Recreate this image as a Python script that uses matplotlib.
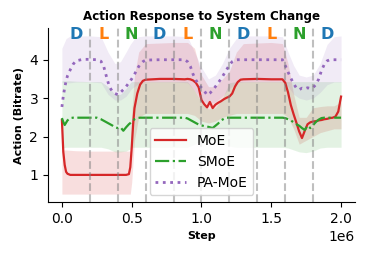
import matplotlib
matplotlib.use('Agg')
import matplotlib.pyplot as plt
import numpy as np

# pasos de entrenamiento (en millones)
steps = [0.00, 0.01, 0.02, 0.03, 0.04, 0.06, 0.08, 0.10, 0.15, 0.20,
         0.25, 0.28, 0.30, 0.32, 0.34, 0.36, 0.38, 0.40, 0.42, 0.44,
         0.46, 0.48, 0.49, 0.50, 0.51, 0.52, 0.54, 0.56, 0.58, 0.60,
         0.70, 0.80, 0.88, 0.90, 0.92, 0.94, 0.96, 0.98, 1.00, 1.02,
         1.04, 1.06, 1.08, 1.10, 1.12, 1.14, 1.16, 1.18, 1.20, 1.22,
         1.24, 1.26, 1.28, 1.30, 1.40, 1.50, 1.58, 1.60, 1.62, 1.64,
         1.66, 1.68, 1.70, 1.72, 1.74, 1.76, 1.78, 1.80, 1.82, 1.84,
         1.86, 1.88, 1.90, 1.92, 1.94, 1.96, 1.98, 2.00]

moe = [2.43, 1.60, 1.26, 1.08, 1.03, 1.00, 1.00, 1.00, 1.00, 1.00,
       1.00, 1.00, 1.00, 1.00, 1.00, 1.00, 1.00, 1.00, 1.00, 1.00,
       1.00, 1.02, 1.20, 1.70, 2.30, 2.74, 3.12, 3.35, 3.45, 3.48,
       3.50, 3.50, 3.49, 3.50, 3.49, 3.46, 3.40, 3.28, 2.95, 2.84,
       2.76, 2.90, 2.74, 2.83, 2.88, 2.92, 2.97, 3.01, 3.04, 3.12,
       3.30, 3.42, 3.48, 3.49, 3.50, 3.49, 3.49, 3.40, 3.15, 2.82,
       2.58, 2.36, 2.13, 1.96, 2.15, 2.32, 2.37, 2.39, 2.40, 2.42,
       2.43, 2.45, 2.46, 2.48, 2.49, 2.52, 2.65, 3.04]

smoe = [2.48, 2.38, 2.30, 2.36, 2.42, 2.48, 2.49, 2.49, 2.49, 2.49,
        2.49, 2.45, 2.41, 2.37, 2.33, 2.29, 2.24, 2.22, 2.24, 2.15,
        2.24, 2.32, 2.35, 2.39, 2.42, 2.45, 2.48, 2.49, 2.49, 2.49,
        2.49, 2.49, 2.49, 2.47, 2.43, 2.39, 2.35, 2.31, 2.29, 2.27,
        2.26, 2.24, 2.22, 2.28, 2.34, 2.42, 2.46, 2.49, 2.49, 2.49,
        2.49, 2.49, 2.49, 2.49, 2.49, 2.49, 2.49, 2.48, 2.45, 2.42,
        2.37, 2.32, 2.28, 2.22, 2.17, 2.28, 2.22, 2.30, 2.38, 2.44,
        2.48, 2.49, 2.49, 2.49, 2.49, 2.49, 2.49, 2.49]

pamoe = [2.77, 3.05, 3.27, 3.45, 3.58, 3.74, 3.88, 3.97, 4.01, 4.01,
         4.00, 3.96, 3.82, 3.55, 3.30, 3.18, 3.12, 3.09, 3.15, 3.22,
         3.30, 3.40, 3.45, 3.50, 3.56, 3.62, 3.76, 3.88, 3.95, 3.99,
         4.00, 4.00, 4.00, 3.95, 3.83, 3.62, 3.47, 3.35, 3.27, 3.19,
         3.08, 3.13, 3.20, 3.30, 3.40, 3.50, 3.62, 3.74, 3.86, 3.95,
         3.99, 4.00, 4.00, 4.00, 4.00, 4.00, 4.00, 3.85, 3.68, 3.52,
         3.38, 3.26, 3.22, 3.26, 3.24, 3.27, 3.25, 3.28, 3.35, 3.50,
         3.72, 3.88, 3.97, 4.00, 4.00, 4.00, 4.00, 4.00]

# bandas de variabilidad (min/max entre semillas)
band_steps = [0.00, 0.03, 0.06, 0.10, 0.20, 0.28, 0.33, 0.38, 0.42, 0.46,
              0.49, 0.50, 0.52, 0.55, 0.60, 0.80, 0.90, 0.95, 1.00, 1.05,
              1.10, 1.15, 1.20, 1.25, 1.30, 1.50, 1.58, 1.62, 1.66, 1.70,
              1.75, 1.80, 1.85, 1.90, 1.95, 2.00]

moe_low = [0.50, 0.50, 0.50, 0.50, 0.50, 0.50, 0.50, 0.50, 0.50, 0.50,
           0.50, 0.80, 1.90, 2.50, 2.60, 2.60, 2.60, 2.55, 2.40, 2.35,
           2.40, 2.50, 2.55, 2.60, 2.60, 2.60, 2.60, 2.50, 2.20, 1.80,
           1.90, 2.00, 2.10, 2.15, 2.20, 2.20]
moe_high = [1.65, 1.65, 1.64, 1.63, 1.62, 1.62, 1.62, 1.62, 1.62, 1.62,
            1.62, 2.60, 3.60, 4.20, 4.42, 4.45, 4.45, 4.30, 3.60, 3.30,
            3.30, 3.50, 3.70, 4.20, 4.42, 4.45, 4.42, 3.90, 3.10, 2.50,
            2.50, 2.75, 2.78, 2.80, 2.80, 2.90]

smoe_low = [1.70, 1.72, 1.72, 1.72, 1.72, 1.72, 1.68, 1.60, 1.60, 1.62,
            1.68, 1.72, 1.72, 1.72, 1.72, 1.72, 1.72, 1.80, 1.90, 1.90,
            1.90, 1.85, 1.75, 1.72, 1.72, 1.72, 1.72, 1.70, 1.65, 1.60,
            1.58, 1.62, 1.70, 1.72, 1.72, 1.72]
smoe_high = [3.45, 3.45, 3.45, 3.44, 3.43, 3.43, 3.30, 3.10, 3.10, 3.25,
             3.40, 3.43, 3.43, 3.43, 3.43, 3.43, 3.43, 3.20, 2.90, 2.72,
             2.75, 3.00, 3.40, 3.43, 3.43, 3.43, 3.43, 3.43, 3.43, 3.43,
             3.43, 3.43, 3.43, 3.43, 3.43, 3.43]

pamoe_low = [3.40, 3.40, 3.40, 3.42, 3.42, 3.40, 3.10, 2.95, 2.95, 3.05,
             3.20, 3.25, 3.30, 3.38, 3.42, 3.42, 3.40, 3.20, 2.95, 2.85,
             2.90, 3.05, 3.25, 3.40, 3.42, 3.42, 3.42, 3.30, 3.10, 3.00,
             2.95, 3.00, 3.15, 3.35, 3.42, 3.42]
pamoe_high = [4.30, 4.55, 4.62, 4.62, 4.62, 4.60, 4.20, 3.90, 3.95, 4.20,
              4.40, 4.45, 4.55, 4.60, 4.62, 4.62, 4.60, 4.20, 3.80, 3.50,
              3.60, 3.90, 4.30, 4.55, 4.62, 4.62, 4.60, 4.20, 3.85, 3.60,
              3.55, 3.60, 3.90, 4.40, 4.60, 4.62]

# cambios de sistema cada 200k pasos
change_steps = [0.2, 0.4, 0.6, 0.8, 1.0, 1.2, 1.4, 1.6, 1.8]
phase_labels = ['D', 'L', 'N', 'D', 'L', 'N', 'D', 'L', 'N', 'D']
phase_centers = [0.1, 0.3, 0.5, 0.7, 0.9, 1.1, 1.3, 1.5, 1.7, 1.9]
phase_colors = {'D': 'tab:blue', 'L': 'tab:orange', 'N': 'tab:green'}

x = np.array(steps) * 1e6
xb = np.array(band_steps) * 1e6

fig, ax = plt.subplots(figsize=(3.66, 2.57), dpi=100)
fig.subplots_adjust(left=0.131, right=0.970, bottom=0.214, top=0.891)

ax.fill_between(xb, moe_low, moe_high, color='tab:red', alpha=0.15, linewidth=0)
ax.fill_between(xb, smoe_low, smoe_high, color='tab:green', alpha=0.13, linewidth=0)
ax.fill_between(xb, pamoe_low, pamoe_high, color='tab:purple', alpha=0.13, linewidth=0)

ax.plot(x, moe, color='tab:red', linestyle='-', linewidth=1.6, label='MoE')
ax.plot(x, smoe, color='tab:green', linestyle='-.', linewidth=1.6, label='SMoE')
ax.plot(x, pamoe, color='tab:purple', linestyle=':', linewidth=2, label='PA-MoE')

for c in change_steps:
    ax.axvline(c * 1e6, color='gray', linestyle='--', linewidth=1.5, alpha=0.5)

for lab, c in zip(phase_labels, phase_centers):
    ax.text(c * 1e6, 0.965, lab, transform=ax.get_xaxis_transform(),
            ha='center', va='center', fontsize=11.5, fontweight='bold',
            color=phase_colors[lab])

ax.set_title('Action Response to System Change', fontsize=8.6, fontweight='bold')
ax.set_xlabel('Step', fontsize=8, fontweight='bold')
ax.set_ylabel('Action (Bitrate)', fontsize=8, fontweight='bold')
ax.tick_params(labelsize=10)
ax.spines['top'].set_visible(False)
ax.spines['right'].set_visible(False)
ax.legend(loc='lower center', fontsize=10, handlelength=2.2)

plt.savefig('out.png', dpi=100)
